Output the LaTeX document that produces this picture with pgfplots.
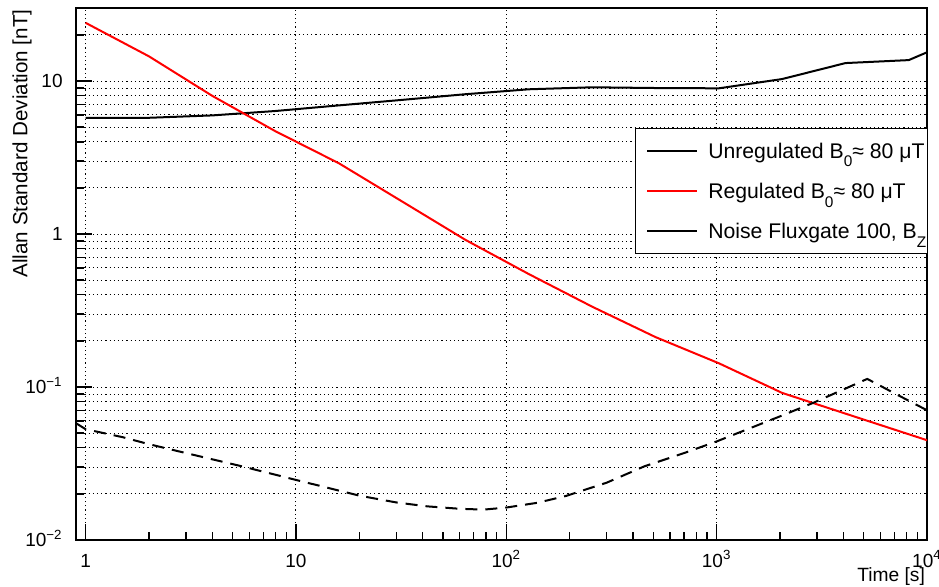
\documentclass[border=0pt]{standalone}
\usepackage{fontspec}
\setmainfont{Liberation Sans}
\usepackage{pgfplots}
\pgfplotsset{compat=1.18}
\newcommand\lsub[1]{\raisebox{-0.42em}{\fontsize{7.7}{8}\selectfont #1}}
\begin{document}
\begin{tikzpicture}
\useasboundingbox (-38pt,-23pt) rectangle (431.5pt,270pt);
\begin{axis}[
  at={(0,0)}, anchor=south west, scale only axis,
  width=425.5pt, height=266pt,
  xmode=log, ymode=log,
  xmin=0.9, xmax=10000, ymin=0.01, ymax=30,
  axis line style={line width=0.8pt},
  tick pos=left, tick align=inside,
  major tick length=8pt, minor tick length=4pt,
  every tick/.style={black, line width=0.6pt},
  xtick={1,10,100,1000,10000},
  xticklabels={1,10,10\textsuperscript{2},10\textsuperscript{3},10\textsuperscript{4}},
  minor xtick={2,3,4,5,6,7,8,9,20,30,40,50,60,70,80,90,200,300,400,500,600,700,800,900,2000,3000,4000,5000,6000,7000,8000,9000},
  ytick={0.01,0.1,1,10},
  yticklabels={10\textsuperscript{−2},10\textsuperscript{−1},1,10},
  minor ytick={0.02,0.03,0.04,0.05,0.06,0.07,0.08,0.09,0.2,0.3,0.4,0.5,0.6,0.7,0.8,0.9,2,3,4,5,6,7,8,9,20,30},
  xmajorgrids=true, ymajorgrids=true, yminorgrids=true, xminorgrids=false,
  grid style={black, line width=0.5pt, dash pattern=on 0.6pt off 1.5pt},
  tick label style={font=\fontsize{9.5}{11}\selectfont},
  xticklabel style={anchor=base, inner sep=0pt, yshift=-13.5pt},
  yticklabel style={anchor=base east, inner sep=0pt, xshift=-6.5pt, yshift=-3.4pt},
  xlabel={Time [s]},
  ylabel={Allan Standard Deviation [nT]},
  xlabel style={at={(axis description cs:0.998,-0.078)}, anchor=base east, inner sep=0pt, font=\fontsize{9.6}{11}\selectfont},
  ylabel style={at={(axis description cs:-0.0752,0.998)}, anchor=north east, inner sep=0pt, font=\fontsize{10.3}{12}\selectfont},
  legend style={at={(axis description cs:1.001,0.7744)}, anchor=north east,
    draw=black, line width=0.6pt, fill=white,
    inner xsep=0.5pt, inner ysep=0.9pt,
    font=\fontsize{10.6}{12}\selectfont,
    nodes={inner sep=0pt, text height=13.8pt, text depth=6.4pt},
    row sep=0pt, column sep=5pt},
  legend cell align=left,
  legend image code/.code={\path (-5pt,0pt); \draw[#1, solid] (0pt,0pt) -- (25pt,0pt);},
]
% Unregulated
\addplot[black, line width=1pt] coordinates {
(1,5.75) (2,5.75) (4,5.96) (8,6.37) (16,6.93) (32,7.53) (64,8.2) (128,8.83)
(256,9.1) (512,9.0) (1024,8.96) (2048,10.3) (4096,13.1) (8192,13.7) (16384,20.6)
};
\addlegendentry{Unregulated B\lsub{0}≈ 80 μT}
% Regulated
\addplot[red, line width=1pt] coordinates {
(1,24.0) (2,14.5) (4,8.0) (8,4.69) (16,2.9) (32,1.63) (64,0.915) (128,0.547)
(256,0.335) (512,0.212) (1024,0.143) (2048,0.0915) (4096,0.067) (8192,0.0491) (16384,0.036)
};
\addlegendentry{Regulated B\lsub{0}≈ 80 μT}
% Noise fluxgate
\addplot[black, line width=1pt, dash pattern=on 6pt off 4pt, forget plot] coordinates {
(0.9,0.058) (1,0.053) (1.5,0.047) (2,0.0423) (3,0.037) (5.6,0.0302) (10,0.0247)
(20,0.0195) (30,0.0176) (42,0.0166) (60,0.016) (78,0.0158) (100,0.0163) (140,0.0175)
(192,0.0194) (300,0.0237) (453,0.0303) (700,0.037) (1000,0.0441) (2000,0.0643)
(2890,0.079) (4000,0.0963) (5200,0.113) (7000,0.091) (10000,0.0705)
};
\addlegendimage{black, line width=1pt, solid}
\addlegendentry{Noise Fluxgate 100, B\lsub{Z}}
\end{axis}
\end{tikzpicture}
\end{document}
